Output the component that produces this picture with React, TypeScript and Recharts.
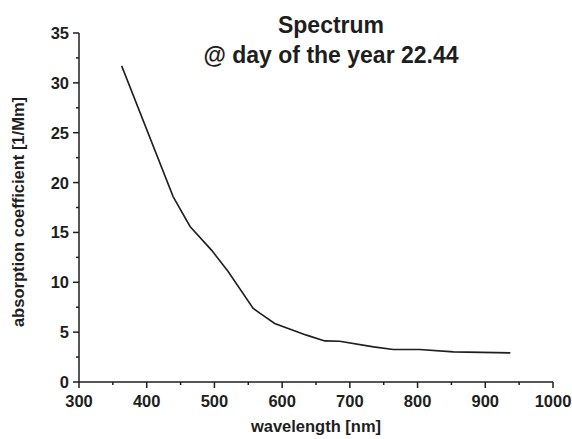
import React from 'react';
import { LineChart, Line, XAxis, YAxis } from 'recharts';

// wavelength [nm] and absorption coefficient [1/Mm]
const WAVELENGTH = [363, 439, 464, 496, 520, 557, 567, 589, 636, 663, 685, 735, 764, 803, 853, 937];
const ABSORPTION = [31.7, 18.6, 15.6, 13.2, 11.1, 7.4, 6.9, 5.87, 4.7, 4.12, 4.09, 3.52, 3.26, 3.26, 3.02, 2.92];

const X_TICKS = [300, 350, 400, 450, 500, 550, 600, 650, 700, 750, 800, 850, 900, 950, 1000];
const Y_TICKS = [0, 2.5, 5, 7.5, 10, 12.5, 15, 17.5, 20, 22.5, 25, 27.5, 30, 32.5, 35];

const TITLE = ['Spectrum', '@ day of the year 22.44'];
const X_LABEL = 'wavelength [nm]';
const Y_LABEL = 'absorption coefficient [1/Mm]';

const FONT = '"Liberation Sans", Arial, sans-serif';
const INK = '#1e1e1e';

const data = WAVELENGTH.map((w, i) => ({ wavelength: w, value: ABSORPTION[i] }));

const XTick = (props: any) => {
  const { x, y, payload } = props;
  const major = payload.value % 100 === 0;
  return (
    <g>
      <line x1={x} y1={y} x2={x} y2={y + (major ? 6 : 3)} stroke={INK} strokeWidth={1.5} />
      {major && (
        <text x={x} y={y + 25} textAnchor="middle" fill={INK} fontSize={16.5} fontWeight="bold" fontFamily={FONT}>
          {payload.value}
        </text>
      )}
    </g>
  );
};

const YTick = (props: any) => {
  const { x, y, payload } = props;
  const major = payload.value % 5 === 0;
  return (
    <g>
      <line x1={x} y1={y} x2={x - (major ? 6 : 3)} y2={y} stroke={INK} strokeWidth={1.5} />
      {major && (
        <text x={x - 10} y={y + 6} textAnchor="end" fill={INK} fontSize={16.5} fontWeight="bold" fontFamily={FONT}>
          {payload.value}
        </text>
      )}
    </g>
  );
};

export default function App() {
  return (
    <div style={{ position: 'absolute', left: 0, top: 0, width: 572, height: 439, background: '#fff', fontFamily: FONT, color: INK }}>
      <LineChart width={572} height={439} data={data} margin={{ top: 33, right: 19, bottom: 0, left: 0 }}>
        <XAxis
          dataKey="wavelength"
          type="number"
          domain={[300, 1000]}
          ticks={X_TICKS}
          interval={0}
          height={57}
          tickSize={0}
          tickMargin={0}
          tickLine={false}
          axisLine={{ stroke: INK, strokeWidth: 1.5 }}
          tick={<XTick />}
        />
        <YAxis
          type="number"
          domain={[0, 35]}
          ticks={Y_TICKS}
          interval={0}
          width={79}
          tickSize={0}
          tickMargin={0}
          tickLine={false}
          axisLine={{ stroke: INK, strokeWidth: 1.5 }}
          tick={<YTick />}
        />
        <Line
          type="linear"
          dataKey="value"
          stroke={INK}
          strokeWidth={1.6}
          dot={false}
          isAnimationActive={false}
        />
      </LineChart>
      <div style={{ position: 'absolute', left: 331, top: 10, transform: 'translateX(-50%)', textAlign: 'center', fontWeight: 'bold', fontSize: 23, lineHeight: '30px', whiteSpace: 'nowrap' }}>
        <div>{TITLE[0]}</div>
        <div>{TITLE[1]}</div>
      </div>
      <div style={{ position: 'absolute', left: 316, top: 426, transform: 'translate(-50%, -50%)', fontWeight: 'bold', fontSize: 16.5, whiteSpace: 'nowrap' }}>
        {X_LABEL}
      </div>
      <div style={{ position: 'absolute', left: 18, top: 212, transform: 'translate(-50%, -50%) rotate(-90deg)', fontWeight: 'bold', fontSize: 16.5, whiteSpace: 'nowrap' }}>
        {Y_LABEL}
      </div>
    </div>
  );
}
